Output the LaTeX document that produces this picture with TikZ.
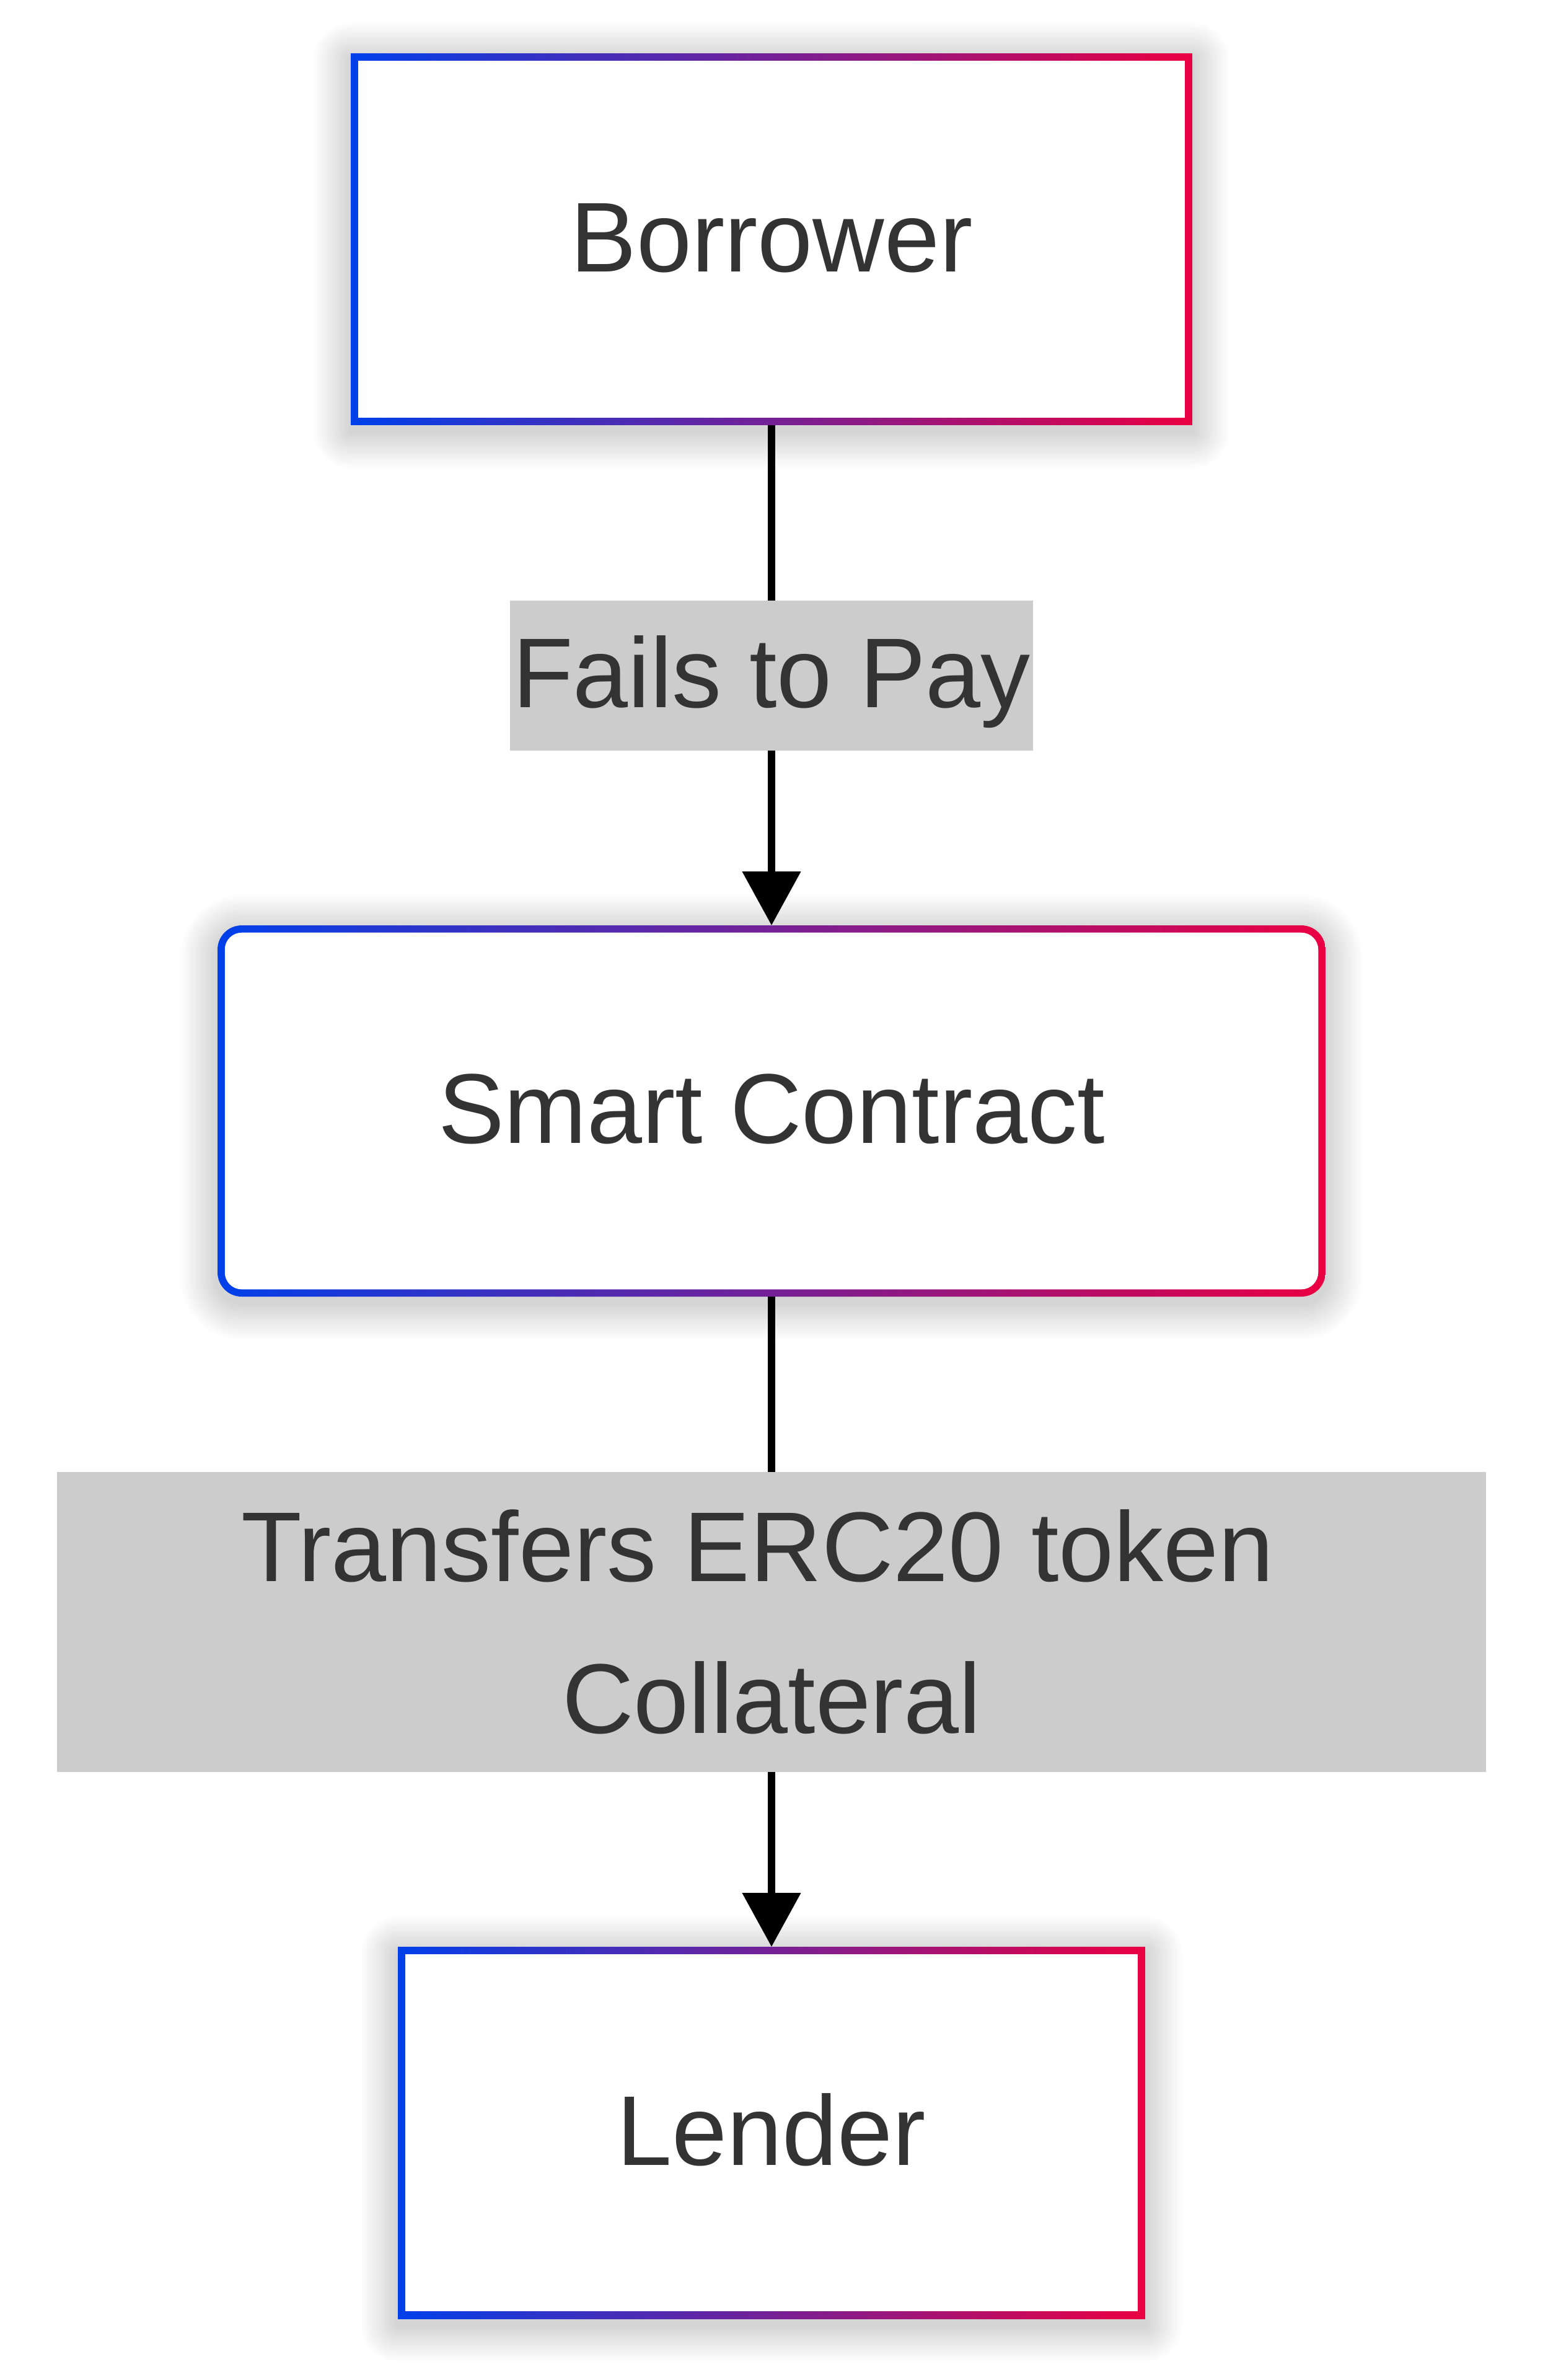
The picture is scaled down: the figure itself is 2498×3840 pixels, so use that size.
\documentclass[tikz,border=0pt]{standalone}
\usepackage{fontspec}
\setmainfont{Liberation Sans}
\usetikzlibrary{arrows.meta}
\definecolor{cblue}{RGB}{0,64,234}
\definecolor{cred}{RGB}{234,0,66}
\definecolor{labgray}{RGB}{204,204,204}
\definecolor{txtgray}{RGB}{51,51,51}
\pgfdeclarelayer{bg}
\pgfsetlayers{bg,main}
\newcommand\mkbox[2]{%
  \begin{pgfonlayer}{bg}
    \foreach \i in {1,...,14}{
      \pgfmathsetmacro\rr{#2+\i*0.42}
      \pgfmathsetmacro\dd{\i*0.42}
      \fill[black,opacity=0.011,rounded corners=\rr pt]
        ([shift={(-\dd pt,-1pt-\dd pt)}]#1.south west) rectangle
        ([shift={(\dd pt,-1pt+\dd pt)}]#1.north east);
    }
    \pgfmathsetmacro\ro{#2}
    \pgfmathsetmacro\ri{max(#2-1.17,0)}
    \shade[left color=cblue,right color=cred,rounded corners=\ro pt]
      (#1.south west) rectangle (#1.north east);
    \fill[white,rounded corners=\ri pt]
      ([shift={(1.17pt,1.17pt)}]#1.south west) rectangle
      ([shift={(-1.17pt,-1.17pt)}]#1.north east);
  \end{pgfonlayer}%
}
\tikzset{
  boxn/.style={rectangle, inner sep=0pt, outer sep=0pt, minimum height=60pt,
    text=txtgray, font=\fontsize{16pt}{24.5pt}\selectfont,
    text height=11.6pt, text depth=1.2pt},
  lab/.style={rectangle, fill=labgray, inner sep=0pt, outer sep=0pt,
    text=txtgray, font=\fontsize{16pt}{24.5pt}\selectfont},
  conn/.style={line width=1.17pt, black, -{Triangle[length=8.7pt,width=9.2pt]}}
}
\begin{document}
\begin{tikzpicture}[x=0.1pt,y=-0.1pt]
  \useasboundingbox (0,0) rectangle (2498,3840);
  \begin{pgfonlayer}{bg}
    \fill[white] (0,0) rectangle (2498,3840);
  \end{pgfonlayer}

  \node[boxn, minimum width=135.8pt] (b) at (1245,386) {Borrower};
  \node[boxn, minimum width=178.8pt, minimum height=59.9pt] (s) at (1245,1792.5) {Smart Contract};
  \node[boxn, minimum width=120.6pt] (l) at (1245,3441) {Lender};

  \mkbox{b}{0}
  \mkbox{s}{3.9}
  \mkbox{l}{0}

  \draw[conn] (b) -- node[lab, minimum width=84.4pt, minimum height=24.2pt,
      text height=11.6pt, text depth=1.2pt] (lab1) {Fails to Pay} (s);
  \draw[conn] (s) -- node[lab, pos=0.5, minimum width=230.6pt, minimum height=48.4pt,
      align=center] (lab2) {Transfers ERC20 token\kern4.45pt\\Collateral} (l);
\end{tikzpicture}
\end{document}
